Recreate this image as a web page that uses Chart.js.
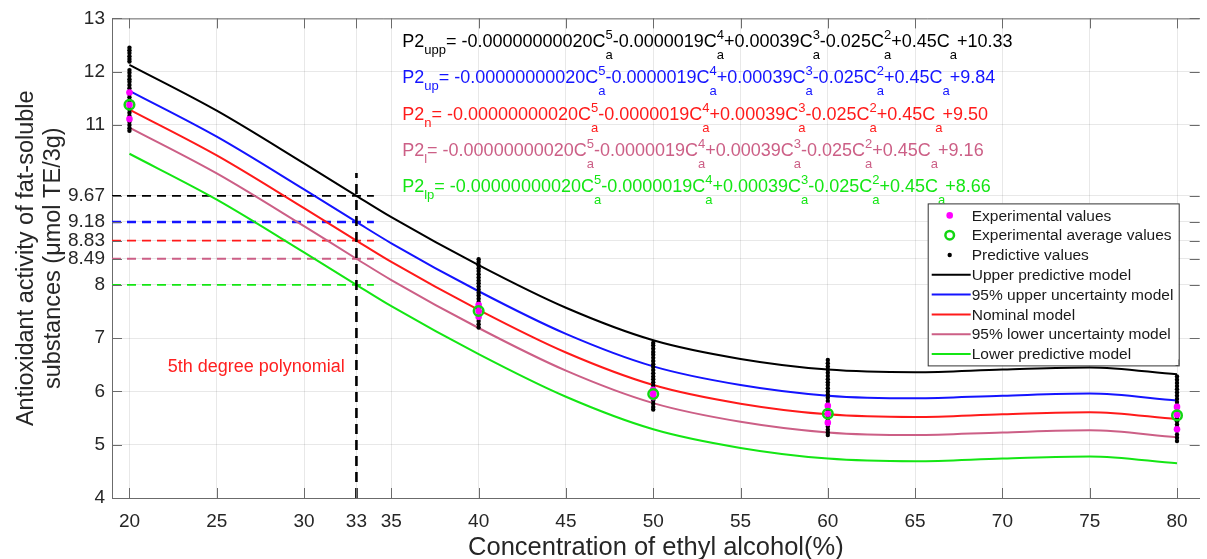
<!DOCTYPE html>
<html>
<head>
<meta charset="utf-8">
<script src="https://cdn.jsdelivr.net/npm/chart.js@4.4.0/dist/chart.umd.min.js"></script>
<style>
  html, body { margin: 0; padding: 0; background: #fff; }
  #wrap { width: 1207px; height: 559px; position: relative; }
</style>
</head>
<body>
<div id="wrap"><canvas id="chart"></canvas></div>
<script>
// model curves
const modelX = [20, 25, 30, 33, 35, 40, 45, 50, 55, 60, 65, 70, 75, 80];
const upperPredictive = [12.13, 11.27, 10.28, 9.67, 9.27, 8.37, 7.57, 6.96, 6.61, 6.41, 6.36, 6.41, 6.45, 6.32];
const upperUncertainty = [11.64, 10.78, 9.79, 9.18, 8.78, 7.88, 7.08, 6.47, 6.12, 5.92, 5.87, 5.92, 5.96, 5.83];
const nominal = [11.29, 10.43, 9.44, 8.83, 8.43, 7.53, 6.73, 6.12, 5.77, 5.57, 5.52, 5.57, 5.61, 5.48];
const lowerUncertainty = [10.95, 10.09, 9.10, 8.49, 8.09, 7.19, 6.39, 5.78, 5.43, 5.23, 5.18, 5.23, 5.27, 5.14];
const lowerPredictive = [10.46, 9.60, 8.61, 8.00, 7.60, 6.70, 5.90, 5.29, 4.94, 4.74, 4.69, 4.74, 4.78, 4.65];

// experimental replicates and their means
const expX = [20, 20, 20, 40, 40, 40, 50, 50, 50, 60, 60, 60, 80, 80, 80];
const expY = [11.61, 11.38, 11.11, 7.62, 7.51, 7.40, 6.03, 5.96, 5.89, 5.73, 5.58, 5.41, 5.71, 5.56, 5.29];
const avgX = [20, 40, 50, 60, 80];
const avgY = [11.38, 7.51, 5.95, 5.58, 5.55];

// predictive values (black dot columns)
const pred20 = [12.45, 12.40, 12.35, 12.29, 12.24, 12.19, 12.03, 11.98, 11.92, 11.86, 11.81, 11.75, 11.69, 11.63, 11.58, 11.52, 11.46, 11.40, 11.35, 11.29, 11.23, 11.17, 11.12, 11.06, 11.00, 10.94, 10.89];
const pred40 = [8.48, 8.43, 8.37, 8.31, 8.26, 8.20, 8.14, 8.08, 8.03, 7.97, 7.91, 7.85, 7.80, 7.74, 7.68, 7.62, 7.56, 7.50, 7.44, 7.38, 7.32, 7.26, 7.20];
const pred50 = [6.91, 6.86, 6.80, 6.74, 6.69, 6.63, 6.57, 6.51, 6.46, 6.40, 6.34, 6.28, 6.23, 6.17, 6.11, 6.05, 6.00, 5.94, 5.88, 5.83, 5.77, 5.71, 5.66];
const pred60 = [6.59, 6.53, 6.47, 6.41, 6.35, 6.29, 6.23, 6.17, 6.12, 6.06, 6.00, 5.94, 5.88, 5.82, 5.76, 5.70, 5.64, 5.58, 5.52, 5.46, 5.40, 5.34, 5.28, 5.23, 5.18];
const pred80 = [6.57, 6.52, 6.28, 6.22, 6.16, 6.10, 6.04, 5.98, 5.92, 5.86, 5.80, 5.74, 5.68, 5.62, 5.56, 5.50, 5.44, 5.38, 5.32, 5.26, 5.19, 5.13, 5.07];

// value of each model at 33 %, marked with dashed guides
const guideX = 33;
const guideLevels = [9.67, 9.18, 8.83, 8.49, 8.00];
const guideTop = 10.1;

const xTicks = [20, 25, 30, 33, 35, 40, 45, 50, 55, 60, 65, 70, 75, 80];
const yTicks = [4, 5, 6, 7, 8, 8.49, 8.83, 9.18, 9.67, 11, 12, 13];

const eqNames = ['upp', 'up', 'n', 'l', 'lp'];
const eqConst = ['10.33', '9.84', '9.50', '9.16', '8.66'];

const FONT = '"Liberation Sans", Arial, Helvetica, sans-serif';
const colors = ['#000000', '#1414ff', '#ff1a1a', '#cc5f86', '#14e614'];
const modelNames = ['Upper predictive model', '95% upper uncertainty model', 'Nominal model',
                    '95% lower uncertainty model', 'Lower predictive model'];
const models = [upperPredictive, upperUncertainty, nominal, lowerUncertainty, lowerPredictive];

function pts(xs, ys) { return xs.map((x, i) => ({x: x, y: ys[i]})); }

const predPoints = []
    .concat(pred20.map(v => ({x: 20, y: v})))
    .concat(pred40.map(v => ({x: 40, y: v})))
    .concat(pred50.map(v => ({x: 50, y: v})))
    .concat(pred60.map(v => ({x: 60, y: v})))
    .concat(pred80.map(v => ({x: 80, y: v})));

const datasets = [
    {label: 'Experimental average values', data: pts(avgX, avgY), pointStyle: 'circle', pointRadius: 4.8,
     pointBackgroundColor: 'rgba(0,0,0,0)', pointBorderColor: '#12d612', pointBorderWidth: 2.5},
    {label: 'Experimental values', data: pts(expX, expY), pointRadius: 3.3,
     pointBackgroundColor: '#ff00ff', pointBorderColor: '#ff00ff', pointBorderWidth: 0},
    {label: 'Predictive values', data: predPoints, pointRadius: 2.2,
     pointBackgroundColor: '#000', pointBorderColor: '#000', pointBorderWidth: 0},
    {label: 'guide33', data: [{x: guideX, y: 4}, {x: guideX, y: guideTop}], showLine: true, pointRadius: 0,
     borderColor: '#000', borderWidth: 2.6, borderDash: [10, 6]}
];
models.forEach(function(m, i) {
    datasets.push({label: modelNames[i], data: pts(modelX, m), showLine: true, pointRadius: 0,
        borderColor: colors[i], borderWidth: 2, cubicInterpolationMode: 'monotone'});
});
guideLevels.forEach(function(lv, i) {
    datasets.push({label: 'guide' + i, data: [{x: 19, y: lv}, {x: 34, y: lv}], showLine: true, pointRadius: 0,
        borderColor: colors[i], borderWidth: i === 1 ? 2.4 : 1.8, borderDash: [9, 6]});
});

const legendOrder = ['Experimental values', 'Experimental average values', 'Predictive values'].concat(modelNames);

function drawEquation(ctx, x, y, color, name, constant) {
    const big = '18px ' + FONT, small = '13px ' + FONT;
    ctx.fillStyle = color;
    ctx.textAlign = 'left';
    ctx.textBaseline = 'alphabetic';
    let cx = x;
    function put(t, f, dy) { ctx.font = f; ctx.fillText(t, cx, y + dy); return ctx.measureText(t).width; }
    cx += put('P2', big, 0);
    cx += put(name, small, 7);
    cx += put('= -0.00000000020C', big, 0);
    const terms = ['-0.0000019C', '+0.00039C', '-0.025C', '+0.45C', '+' + constant];
    const powers = ['5', '4', '3', '2', ''];
    for (let i = 0; i < terms.length; i++) {
        const start = cx;
        let w1 = 0, w2;
        if (powers[i]) { ctx.font = small; ctx.fillText(powers[i], start, y - 8); w1 = ctx.measureText(powers[i]).width; }
        ctx.font = small; ctx.fillText('a', start, y + 12); w2 = ctx.measureText('a').width;
        cx = start + Math.max(w1, w2);
        cx += put(terms[i], big, 0);
    }
}

const decorations = {
    id: 'decorations',
    afterDraw(chart) {
        const ctx = chart.ctx, a = chart.chartArea;
        const xs = chart.scales.x, ys = chart.scales.y;
        ctx.save();
        // box top line + inward ticks
        ctx.strokeStyle = '#6b6b6b';
        ctx.lineWidth = 1;
        ctx.beginPath();
        ctx.moveTo(a.left, a.top + 0.5); ctx.lineTo(a.right, a.top + 0.5);
        xTicks.forEach(function(v) {
            const px = Math.round(xs.getPixelForValue(v)) + 0.5;
            ctx.moveTo(px, a.bottom); ctx.lineTo(px, a.bottom - 10);
            ctx.moveTo(px, a.top); ctx.lineTo(px, a.top + 10);
        });
        yTicks.forEach(function(v) {
            const py = Math.round(ys.getPixelForValue(v)) + 0.5;
            ctx.moveTo(a.left, py); ctx.lineTo(a.left + 10, py);
            ctx.moveTo(a.right, py); ctx.lineTo(a.right - 10, py);
        });
        ctx.stroke();

        // equations
        const eqX = xs.getPixelForValue(35.62);
        const eqY = [12.47, 11.78, 11.09, 10.41, 9.74];
        for (let i = 0; i < 5; i++) {
            drawEquation(ctx, eqX, ys.getPixelForValue(eqY[i]), colors[i], eqNames[i], eqConst[i]);
        }

        // note
        ctx.font = '18px ' + FONT;
        ctx.fillStyle = '#ff2020';
        ctx.textAlign = 'center';
        ctx.textBaseline = 'middle';
        ctx.fillText('5th degree polynomial', xs.getPixelForValue(27.26), ys.getPixelForValue(6.46));

        // legend
        const bx = a.right - 272, by = a.top + 185, bw = 251, bh = 162;
        ctx.fillStyle = '#fff';
        ctx.fillRect(bx, by, bw, bh);
        ctx.strokeStyle = '#333';
        ctx.lineWidth = 1;
        ctx.strokeRect(bx + 0.5, by + 0.5, bw, bh);
        ctx.font = '15.5px ' + FONT;
        ctx.textAlign = 'left';
        ctx.textBaseline = 'middle';
        legendOrder.forEach(function(lbl, i) {
            const ds = chart.data.datasets.find(d => d.label === lbl);
            const ry = by + 12 + i * 19.8;
            if (ds.showLine) {
                ctx.strokeStyle = ds.borderColor;
                ctx.lineWidth = 2;
                ctx.beginPath(); ctx.moveTo(bx + 4, ry); ctx.lineTo(bx + 43, ry); ctx.stroke();
            } else {
                ctx.beginPath();
                ctx.arc(bx + 22, ry, Math.min(ds.pointRadius, 4.3), 0, Math.PI * 2);
                if (ds.pointBorderWidth > 0) {
                    ctx.strokeStyle = ds.pointBorderColor; ctx.lineWidth = ds.pointBorderWidth; ctx.stroke();
                } else {
                    ctx.fillStyle = ds.pointBackgroundColor; ctx.fill();
                }
            }
            ctx.fillStyle = '#1a1a1a';
            ctx.fillText(lbl, bx + 44, ry + 1);
        });
        ctx.restore();
    }
};

new Chart(document.getElementById('chart'), {
    type: 'scatter',
    data: {datasets: datasets},
    plugins: [decorations],
    options: {
        responsive: true,
        maintainAspectRatio: false,
        animation: false,
        layout: {padding: {top: 17, right: 0, bottom: 0, left: 0}},
        plugins: {legend: {display: false}, tooltip: {enabled: false}},
        scales: {
            x: {
                type: 'linear', min: 19, max: 81.3,
                afterBuildTicks: function(s) { s.ticks = xTicks.map(v => ({value: v})); },
                afterFit: function(s) { s.height = 61; },
                ticks: {autoSkip: false, maxRotation: 0, padding: 12, color: '#262626',
                        font: {family: FONT, size: 19}},
                grid: {color: 'rgba(0,0,0,0.09)', drawTicks: false},
                border: {color: '#6b6b6b'},
                title: {display: true, text: 'Concentration of ethyl alcohol(%)', color: '#262626',
                        font: {family: FONT, size: 25.5, lineHeight: 0.9}, padding: {top: 0, bottom: 0}}
            },
            y: {
                type: 'linear', min: 4, max: 13,
                afterBuildTicks: function(s) { s.ticks = yTicks.map(v => ({value: v})); },
                afterFit: function(s) { s.width = 112; },
                ticks: {autoSkip: false, padding: 7, color: '#262626', font: {family: FONT, size: 19},
                        callback: v => String(v)},
                grid: {color: 'rgba(0,0,0,0.09)', drawTicks: false},
                border: {color: '#6b6b6b'},
                title: {display: true, text: ['Antioxidant activity of fat-soluble', 'substances (\u03bcmol TE/3g)'],
                        color: '#262626', font: {family: FONT, size: 23.5, lineHeight: 1.15},
                        padding: {top: 13, bottom: 0}}
            }
        }
    }
});
</script>
</body>
</html>
